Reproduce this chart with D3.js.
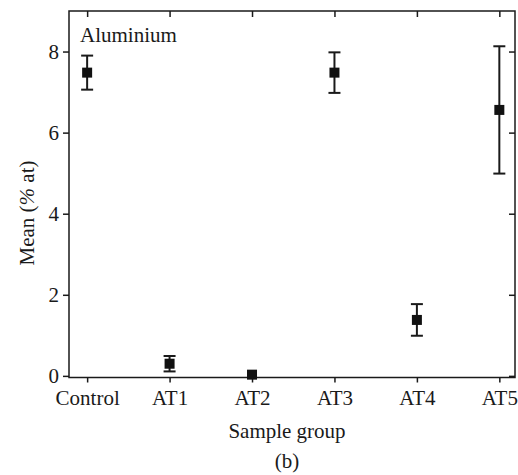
<!DOCTYPE html>
<html>
<head>
<meta charset="utf-8">
<script src="https://cdn.jsdelivr.net/npm/d3@7"></script>
<style>
  body { margin: 0; background: #fff; }
  text { font-family: "Liberation Serif", "DejaVu Serif", serif; fill: #1a1a1a; }
</style>
</head>
<body>
<div id="chart"></div>
<script>
var groups = ["Control", "AT1", "AT2", "AT3", "AT4", "AT5"];
var means = [7.48, 0.30, 0.03, 7.48, 1.38, 6.56];
var errors = [0.42, 0.19, 0, 0.50, 0.39, 1.57];
var yTicks = [0, 2, 4, 6, 8];

var W = 518, H = 475;
// plot frame edges (note: "top" is taken by window.top)
var pLeft = 69, pRight = 515, pTop = 11, pBottom = 377.5;
var ink = "#1a1a1a";

var rows = groups.map(function (g, i) {
    return {idx: i, mean: means[i], err: errors[i]};
});

var svg = d3.select("#chart").append("svg")
    .attr("width", W)
    .attr("height", H);

var x = d3.scaleLinear()
    .domain([-0.22, 5.19])
    .range([pLeft, pRight]);

var y = d3.scaleLinear()
    .domain([-0.04, 9])
    .range([pBottom, pTop]);

var xTickVals = groups.map(function (d, i) { return i; });

// axes: bottom/left ticks point out, top/right point in
svg.append("g")
    .attr("transform", "translate(0," + pBottom + ")")
    .call(d3.axisBottom(x).tickValues(xTickVals).tickSize(5).tickPadding(8)
        .tickFormat(function (i) { return groups[i]; }));

svg.append("g")
    .attr("transform", "translate(0," + pTop + ")")
    .call(d3.axisTop(x).tickValues(xTickVals).tickSize(-6).tickFormat(""));

svg.append("g")
    .attr("transform", "translate(" + pLeft + ",0)")
    .call(d3.axisLeft(y).tickValues(yTicks).tickSize(6).tickPadding(4));

svg.append("g")
    .attr("transform", "translate(" + pRight + ",0)")
    .call(d3.axisRight(y).tickValues(yTicks).tickSize(-6).tickFormat(""));

svg.selectAll(".domain").remove();
svg.selectAll(".tick line").attr("stroke", ink).attr("stroke-width", 1.5);
svg.selectAll(".tick text")
    .style("font-family", "'Liberation Serif', serif")
    .style("font-size", "21px")
    .attr("fill", ink);

// frame
svg.append("rect")
    .attr("x", pLeft)
    .attr("y", pTop)
    .attr("width", pRight - pLeft)
    .attr("height", pBottom - pTop)
    .attr("fill", "none")
    .attr("stroke", ink)
    .attr("stroke-width", 1.5);

// error bars (skip zero-width ones)
var eb = svg.append("g").selectAll("g")
    .data(rows.filter(function (d) { return d.err > 0; }))
    .enter()
    .append("g");

eb.append("line")
    .attr("x1", function (d) { return x(d.idx); })
    .attr("x2", function (d) { return x(d.idx); })
    .attr("y1", function (d) { return y(d.mean - d.err); })
    .attr("y2", function (d) { return y(d.mean + d.err); })
    .attr("stroke", ink)
    .attr("stroke-width", 2);

eb.append("line")
    .attr("x1", function (d) { return x(d.idx) - 6; })
    .attr("x2", function (d) { return x(d.idx) + 6; })
    .attr("y1", function (d) { return y(d.mean + d.err); })
    .attr("y2", function (d) { return y(d.mean + d.err); })
    .attr("stroke", ink)
    .attr("stroke-width", 2);

eb.append("line")
    .attr("x1", function (d) { return x(d.idx) - 6; })
    .attr("x2", function (d) { return x(d.idx) + 6; })
    .attr("y1", function (d) { return y(d.mean - d.err); })
    .attr("y2", function (d) { return y(d.mean - d.err); })
    .attr("stroke", ink)
    .attr("stroke-width", 2);

// markers
svg.append("g").selectAll("rect")
    .data(rows)
    .enter()
    .append("rect")
    .attr("x", function (d) { return x(d.idx) - 5; })
    .attr("y", function (d) { return y(d.mean) - 5; })
    .attr("width", 10)
    .attr("height", 10)
    .attr("fill", "#111");

// labels
svg.append("text")
    .attr("x", 80)
    .attr("y", 42)
    .style("font-size", "21px")
    .text("Aluminium");

var yl = svg.append("text")
    .attr("transform", "translate(34,213) rotate(-90)")
    .attr("text-anchor", "middle")
    .style("font-size", "21px");
yl.append("tspan").text("Mean (");
yl.append("tspan").style("font-style", "italic").text("%");
yl.append("tspan").text(" at)");

svg.append("text")
    .attr("x", 287)
    .attr("y", 438)
    .attr("text-anchor", "middle")
    .style("font-size", "21px")
    .text("Sample group");

svg.append("text")
    .attr("x", 287)
    .attr("y", 468)
    .attr("text-anchor", "middle")
    .style("font-size", "21px")
    .text("(b)");
</script>
</body>
</html>
